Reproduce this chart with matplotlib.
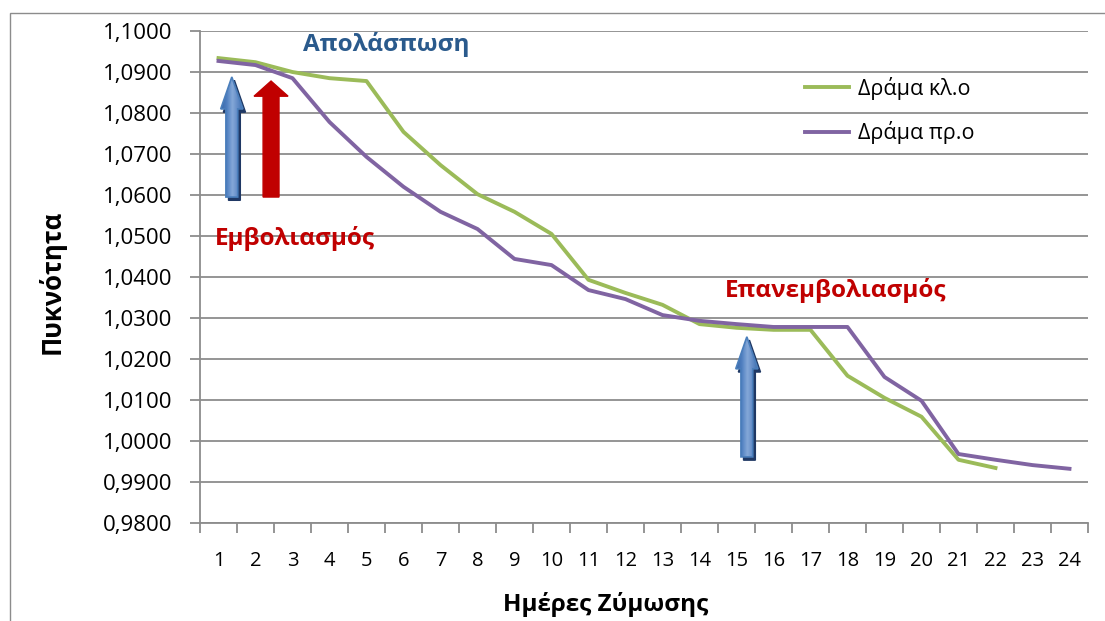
import numpy as np
import matplotlib.pyplot as plt
from matplotlib.patches import Polygon, Rectangle
from matplotlib.colors import LinearSegmentedColormap

plt.rcParams['font.family'] = ['Open Sans', 'DejaVu Sans']

# ημέρες ζύμωσης και πυκνότητα γλεύκους
days_klo = list(range(1, 23))
dens_klo = [1.0934, 1.0924, 1.0900, 1.0885, 1.0878, 1.0754, 1.0673, 1.0602,
            1.0559, 1.0505, 1.0393, 1.0361, 1.0332, 1.0285, 1.0276, 1.0271,
            1.0271, 1.0159, 1.0105, 1.0059, 0.9954, 0.9934]
days_pro = list(range(1, 25))
dens_pro = [1.0927, 1.0917, 1.0885, 1.0778, 1.0693, 1.0620, 1.0559, 1.0517,
            1.0444, 1.0429, 1.0368, 1.0346, 1.0307, 1.0293, 1.0285, 1.0278,
            1.0278, 1.0278, 1.0156, 1.0098, 0.9968, 0.9954, 0.9941, 0.9932]
labels = ['Δράμα κλ.ο', 'Δράμα πρ.ο']
yticks = np.arange(0.98, 1.1001, 0.01)

fig = plt.figure(figsize=(11.05, 6.21), dpi=100)
ax = fig.add_axes([0.181, 0.158, 0.8036, 0.792])

grid_col = '#8c8c8c'
for v in yticks:
    ax.axhline(v, color=grid_col, lw=1.3, zorder=0)

ax.plot(days_klo, dens_klo, color='#9BBB59', lw=2.8, label=labels[0], zorder=3)
ax.plot(days_pro, dens_pro, color='#8064A2', lw=2.8, label=labels[1], zorder=3)

ax.set_xlim(0.5, 24.5)
ax.set_ylim(0.98, 1.1)
ax.set_yticks(yticks)
ax.set_yticklabels([f'{v:.4f}'.replace('.', ',') for v in yticks])
ax.set_xticks(days_pro)
ax.set_xticks(np.arange(0.5, 25, 1), minor=True)
ax.tick_params(axis='x', which='major', length=0, pad=20, labelsize=14.5, colors='black')
ax.tick_params(axis='x', which='minor', length=7, width=1.3, color=grid_col)
ax.tick_params(axis='y', length=7, width=1.3, color=grid_col, labelsize=16, pad=13)
for s in ['top', 'right']:
    ax.spines[s].set_visible(False)
ax.spines['left'].set_color(grid_col)
ax.spines['left'].set_linewidth(1.3)
ax.spines['bottom'].set_color(grid_col)
ax.spines['bottom'].set_linewidth(1.3)

ax.set_ylabel('Πυκνότητα', fontsize=18.5, fontweight='bold')
ax.yaxis.set_label_coords(-0.151, 0.49)
ax.set_xlabel('Ημέρες Ζύμωσης', fontsize=17.5, fontweight='bold', va='center')
ax.xaxis.set_label_coords(0.457, -0.1667)

leg = ax.legend(frameon=False, loc='upper left', bbox_to_anchor=(0.672, 0.925),
                handlelength=2.05, handletextpad=0.4, labelspacing=1.0,
                fontsize=15.5, borderaxespad=0)

# κείμενα σημειώσεων
ax.text(5.53, 1.0968, 'Απολάσπωση', color='#2A5A8C', fontsize=17.5,
        fontweight='bold', ha='center', va='center')
ax.text(3.07, 1.0495, 'Εμβολιασμός', color='#C00000', fontsize=17.5,
        fontweight='bold', ha='center', va='center')
ax.text(17.69, 1.0368, 'Επανεμβολιασμός', color='#C00000', fontsize=17.5,
        fontweight='bold', ha='center', va='center')


def arrow_pts(x, y0, y1, shaft, head, head_len):
    return [(x - shaft / 2, y0), (x + shaft / 2, y0), (x + shaft / 2, y1 - head_len),
            (x + head / 2, y1 - head_len), (x, y1), (x - head / 2, y1 - head_len),
            (x - shaft / 2, y1 - head_len)]


blue_cmap = LinearSegmentedColormap.from_list(
    'b', ['#3A69AA', '#4F7FC0', '#85A8D8', '#5E88C4', '#3A69AA'])


def blue_arrow(x, y0, y1):
    pts = arrow_pts(x, y0, y1, 0.32, 0.6, 0.0078)
    shadow = Polygon([(px + 0.07, py - 0.0008) for px, py in pts],
                     closed=True, color='#1F3864', zorder=4)
    ax.add_patch(shadow)
    poly = Polygon(pts, closed=True, facecolor='none', edgecolor='#4A7EBB',
                   lw=1.2, zorder=6)
    ax.add_patch(poly)
    grad = np.tile(np.linspace(0, 1, 64), (8, 1))
    im = ax.imshow(grad, cmap=blue_cmap, aspect='auto', zorder=5,
                   extent=(x - 0.3, x + 0.3, y0, y1), interpolation='bilinear')
    im.set_clip_path(poly)


blue_arrow(1.36, 1.0595, 1.0888)
blue_arrow(15.28, 0.9961, 1.0254)
ax.add_patch(Polygon(arrow_pts(2.42, 1.0595, 1.0878, 0.43, 0.92, 0.0037),
                     closed=True, color='#C00000', zorder=5))
ax.set_xlim(0.5, 24.5)
ax.set_ylim(0.98, 1.1)

# πλαίσιο γραφήματος
fig.patches.append(Rectangle((10 / 1105, -0.05), 1.1, 1 - 13 / 621 + 0.05,
                             transform=fig.transFigure, fill=False,
                             edgecolor='#8c8c8c', lw=1.0))

fig.savefig('out.png', dpi=100)
